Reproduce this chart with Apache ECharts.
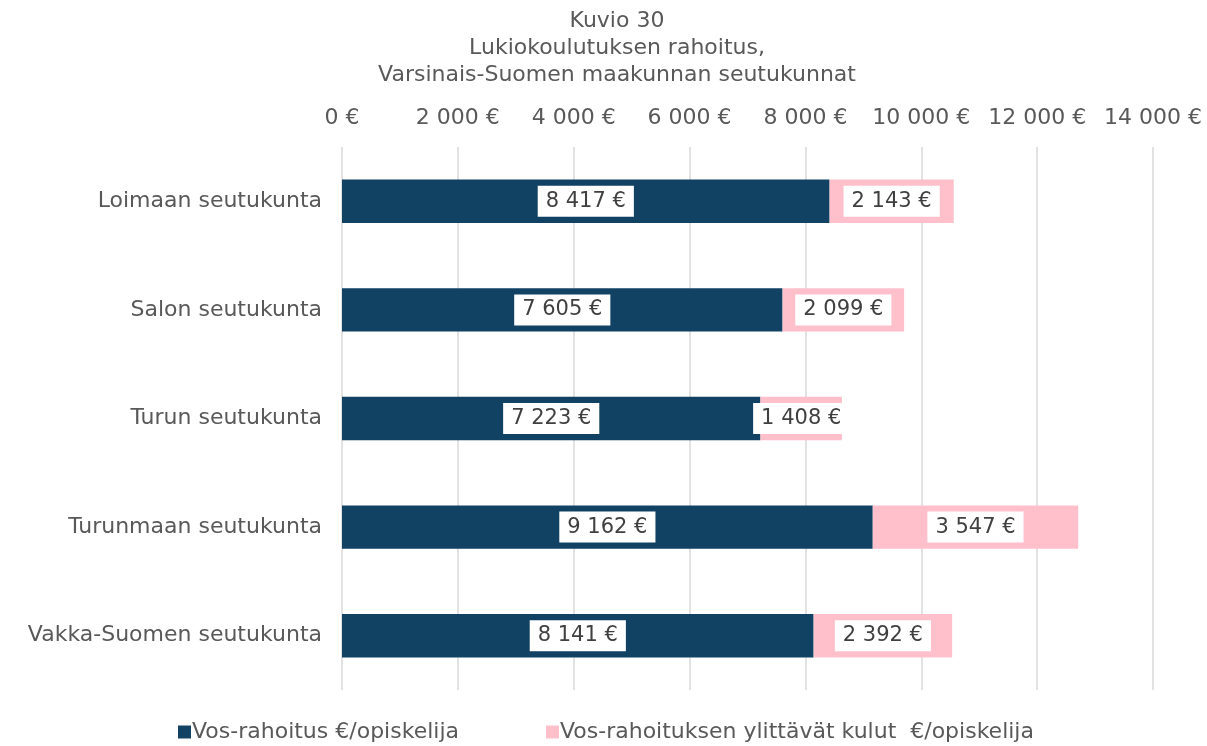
<!DOCTYPE html>
<html>
<head>
<meta charset="utf-8">
<script src="https://cdn.jsdelivr.net/npm/echarts@6/dist/echarts.min.js"></script>
<style>
  html, body { margin: 0; padding: 0; background: #fff; }
  #chart { width: 1207px; height: 746px; }
</style>
</head>
<body>
<div id="chart"></div>
<script>
const regions = ['Loimaan seutukunta', 'Salon seutukunta', 'Turun seutukunta', 'Turunmaan seutukunta', 'Vakka-Suomen seutukunta']
const vosFunding = [8417, 7605, 7223, 9162, 8141]
const excessCosts = [2143, 2099, 1408, 3547, 2392]
const seriesNames = ['Vos-rahoitus €/opiskelija', 'Vos-rahoituksen ylittävät kulut  €/opiskelija']

const fmt = v => String(v).replace(/\B(?=(\d{3})+(?!\d))/g, ' ') + ' €'
const font = '"DejaVu Sans", sans-serif'

const label = {
  show: true, position: 'inside',
  formatter: p => fmt(p.value),
  color: '#404040', fontSize: 21, fontFamily: font,
  backgroundColor: '#fff', padding: [6, 8, 4, 8],
}

const chart = echarts.init(document.getElementById('chart'))
chart.setOption({
  animation: false,
  title: {
    text: 'Kuvio 30\nLukiokoulutuksen rahoitus,\nVarsinais-Suomen maakunnan seutukunnat',
    left: 612, top: 3, textAlign: 'center',
    textStyle: { color: '#595959', fontSize: 22, fontWeight: 'normal', fontFamily: font, lineHeight: 27 },
  },
  legend: {
    data: seriesNames,
    bottom: -2, left: 173, itemGap: 87,
    itemWidth: 13, itemHeight: 13, icon: 'rect',
    textStyle: { color: '#595959', fontSize: 22, fontFamily: font, padding: [0, 0, 0, -4] },
  },
  grid: { left: 342, right: 54, top: 147, bottom: 56, containLabel: false },
  xAxis: {
    type: 'value', position: 'top', min: 0, max: 14000, interval: 2000,
    axisLabel: { formatter: fmt, color: '#595959', fontSize: 22, fontFamily: font, margin: 18 },
    axisLine: { show: false }, axisTick: { show: false },
    splitLine: { lineStyle: { color: '#d9d9d9', width: 1.5 } },
  },
  yAxis: {
    type: 'category', data: regions, inverse: true,
    axisLabel: { color: '#595959', fontSize: 22, fontFamily: font, margin: 20 },
    axisLine: { show: false }, axisTick: { show: false },
  },
  series: [
    { name: seriesNames[0], type: 'bar', stack: 'total', data: vosFunding, barWidth: '40%',
      itemStyle: { color: '#124263' }, label },
    { name: seriesNames[1], type: 'bar', stack: 'total', data: excessCosts, barWidth: '40%',
      itemStyle: { color: '#ffc0cc' }, label },
  ],
})
</script>
</body>
</html>
